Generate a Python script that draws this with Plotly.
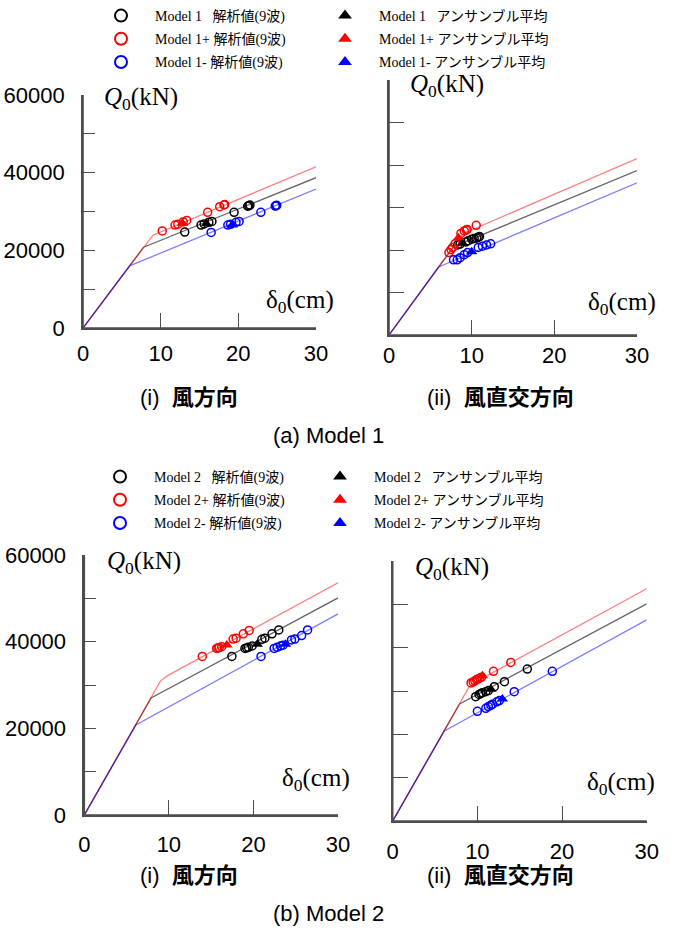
import plotly.graph_objects as go

# ---------------- skeleton curves (delta0 [cm], Q0 [kN]) ----------------
m1_curve_x = {"k": [0, 7.8, 30], "r": [0, 9.0, 30], "b": [0, 6.0, 30]}
m1_curve_y = {"k": [0, 20800, 38700], "r": [0, 23900, 41500], "b": [0, 16000, 35800]}
m2_curve_x = {"k": [0, 7.9, 30], "r": [0, 9.0, 9.8, 30], "b": [0, 6.1, 30]}
m2_curve_y = {"k": [0, 27000, 50100], "r": [0, 30900, 32100, 53600], "b": [0, 20800, 46400]}

# ---------------- analysis values (9 waves) ----------------
# Model 1, (i) along-wind
m1_along_k_x = [13.1, 15.2, 15.6, 16.2, 16.6, 19.45, 21.2, 21.35, 21.5]
m1_along_k_y = [24700, 26500, 26800, 27200, 27450, 29780, 31350, 31450, 31650]
m1_along_r_x = [10.2, 11.85, 12.2, 12.9, 13.35, 16.05, 17.6, 18.15, 18.25]
m1_along_r_y = [25000, 26500, 26700, 27300, 27700, 29800, 31250, 31700, 31800]
m1_along_b_x = [16.5, 18.65, 19.0, 19.7, 20.1, 22.9, 24.75, 24.85, 24.95]
m1_along_b_y = [24600, 26500, 26700, 27200, 27450, 29780, 31400, 31500, 31600]
# Model 1, (ii) across-wind
m1_across_k_x = [8.3, 8.6, 9.3, 9.6, 10.0, 10.3, 10.6, 10.8, 10.95]
m1_across_k_y = [21200, 21400, 21900, 22200, 22550, 22700, 22800, 23000, 23150]
m1_across_r_x = [7.25, 7.5, 7.7, 8.0, 8.7, 9.1, 9.35, 9.45, 10.55]
m1_across_r_y = [19400, 20100, 20600, 21500, 23900, 24500, 24700, 24850, 25800]
m1_across_b_x = [7.8, 8.25, 8.6, 9.1, 9.5, 10.8, 11.3, 11.8, 12.3]
m1_across_b_y = [17700, 17700, 18200, 18900, 19400, 20600, 20900, 21200, 21450]
# Model 2, (i) along-wind
m2_along_k_x = [17.45, 19.0, 19.2, 19.4, 19.85, 21.0, 21.35, 22.2, 23.0]
m2_along_k_y = [36600, 38450, 38550, 38700, 39000, 40550, 40800, 41800, 42700]
m2_along_r_x = [13.95, 15.65, 15.8, 15.95, 16.25, 17.6, 17.95, 18.8, 19.5]
m2_along_r_y = [36600, 38450, 38550, 38650, 38850, 40600, 40800, 41800, 42600]
m2_along_b_x = [20.9, 22.45, 22.8, 23.2, 23.5, 24.5, 24.9, 25.7, 26.4]
m2_along_b_y = [36600, 38450, 38700, 39000, 39200, 40400, 40600, 41400, 42700]
# Model 2, (ii) across-wind
m2_across_k_x = [9.8, 10.2, 10.4, 10.6, 11.0, 11.3, 12.0, 13.2, 15.9]
m2_across_k_y = [28700, 29200, 29400, 29600, 29850, 30100, 31000, 32150, 35050]
m2_across_r_x = [9.25, 9.5, 9.7, 9.9, 10.05, 10.3, 10.5, 11.9, 13.95]
m2_across_r_y = [31850, 32100, 32350, 32600, 32750, 33000, 33200, 34550, 36600]
m2_across_b_x = [10.0, 11.0, 11.3, 11.6, 11.8, 12.3, 12.6, 14.35, 18.85]
m2_across_b_y = [25300, 26000, 26400, 26700, 26950, 27500, 27800, 29850, 34550]

# ---------------- ensemble averages ----------------
m1_along_avg_x = {"k": 15.9, "r": 12.8, "b": 19.2}
m1_along_avg_y = {"k": 26850, "r": 27000, "b": 26550}
m1_across_avg_x = {"k": 8.9, "r": 8.4, "b": 10.0}
m1_across_avg_y = {"k": 21570, "r": 22900, "b": 19600}
m2_along_avg_x = {"k": 20.45, "r": 16.85, "b": 23.8}
m2_along_avg_y = {"k": 39400, "r": 39250, "b": 39400}
m2_across_avg_x = {"k": 11.6, "r": 10.6, "b": 12.95}
m2_across_avg_y = {"k": 30400, "r": 33500, "b": 28150}

# ---------------- ticks / text ----------------
x_major_ticks = [0, 10, 20, 30]
x_minor_ticks = [5, 15, 25]
y_ticks = [0, 10000, 20000, 30000, 40000, 50000, 60000]
y_tick_text = ["0", "", "20000", "", "40000", "", "60000"]
panel_titles = ["(i)\u00a0\u00a0<b>風方向</b>", "(ii)\u00a0\u00a0<b>風直交方向</b>"]
model_titles = ["(a) Model 1", "(b) Model 2"]

NB = "\u00a0"
LEAD = NB * 4
series_suffix = {"k": NB * 3, "r": "+" + NB, "b": "-" + NB}
line_colors = {"k": "rgba(0,0,0,0.6)", "r": "rgba(255,0,0,0.5)", "b": "rgba(0,0,255,0.5)"}
mark_colors = {"k": "black", "r": "red", "b": "blue"}
order = ["k", "r", "b"]

fig = go.Figure()

data = {
    1: {
        "curve_x": m1_curve_x, "curve_y": m1_curve_y,
        "pts": [
            {"k": (m1_along_k_x, m1_along_k_y), "r": (m1_along_r_x, m1_along_r_y), "b": (m1_along_b_x, m1_along_b_y)},
            {"k": (m1_across_k_x, m1_across_k_y), "r": (m1_across_r_x, m1_across_r_y), "b": (m1_across_b_x, m1_across_b_y)},
        ],
        "avg": [(m1_along_avg_x, m1_along_avg_y), (m1_across_avg_x, m1_across_avg_y)],
    },
    2: {
        "curve_x": m2_curve_x, "curve_y": m2_curve_y,
        "pts": [
            {"k": (m2_along_k_x, m2_along_k_y), "r": (m2_along_r_x, m2_along_r_y), "b": (m2_along_b_x, m2_along_b_y)},
            {"k": (m2_across_k_x, m2_across_k_y), "r": (m2_across_r_x, m2_across_r_y), "b": (m2_across_b_x, m2_across_b_y)},
        ],
        "avg": [(m2_along_avg_x, m2_along_avg_y), (m2_across_avg_x, m2_across_avg_y)],
    },
}

axis_ids = {(1, 0): ("x", "y"), (1, 1): ("x2", "y2"), (2, 0): ("x3", "y3"), (2, 1): ("x4", "y4")}
minor_x_ids = {(1, 0): "x5", (1, 1): "x6", (2, 0): "x7", (2, 1): "x8"}
legend_ids = {1: ("legend", "legend2"), 2: ("legend3", "legend4")}

for m in (1, 2):
    d = data[m]
    for p in (0, 1):
        xa, ya = axis_ids[(m, p)]
        for s in order:
            fig.add_trace(go.Scatter(
                x=d["curve_x"][s], y=d["curve_y"][s], mode="lines",
                line=dict(color=line_colors[s], width=1.3),
                xaxis=xa, yaxis=ya, showlegend=False, hoverinfo="skip"))
        for s in order:
            px_, py_ = d["pts"][p][s]
            fig.add_trace(go.Scatter(
                x=px_, y=py_, mode="markers",
                marker=dict(symbol="circle-open", size=8, color=mark_colors[s],
                            line=dict(width=1.5, color=mark_colors[s])),
                xaxis=xa, yaxis=ya,
                name=f"{LEAD}Model {m}{series_suffix[s]}解析値(9波)",
                legend=legend_ids[m][0], legendgroup=f"m{m}{s}c",
                showlegend=(p == 0)))
        ax_, ay_ = d["avg"][p]
        for s in order:
            fig.add_trace(go.Scatter(
                x=[ax_[s]], y=[ay_[s]], mode="markers",
                marker=dict(symbol="triangle-up", size=10, color=mark_colors[s]),
                xaxis=xa, yaxis=ya,
                name=f"{LEAD}Model {m}{series_suffix[s]}アンサンブル平均",
                legend=legend_ids[m][1], legendgroup=f"m{m}{s}t",
                showlegend=(p == 0)))

W, H = 676, 930
def fx(px):
    return px / W
def fy(py):
    return 1 - py / H

# axis domains (pixel positions)
dom = {
    (1, 0): ((83, 316), (95, 328)),
    (1, 1): ((389, 637), (80, 335)),
    (2, 0): ((84.3, 338), (555, 815)),
    (2, 1): ((392.7, 646.7), (561, 821)),
}
xstand = {(1, 0): 5, (1, 1): 0, (2, 0): 9, (2, 1): 10}
AX_COL = "#4d4d4d"
tickfont = dict(family="Liberation Sans, Arial, sans-serif", size=22, color="black")

layout_axes = {}
shapes = []
for (m, p), ((x0, x1), (y0, y1)) in dom.items():
    xa, ya = axis_ids[(m, p)]
    xk = "xaxis" if xa == "x" else "xaxis" + xa[1:]
    yk = "yaxis" if ya == "y" else "yaxis" + ya[1:]
    layout_axes[xk] = dict(
        domain=[fx(x0), fx(x1)], anchor=ya, range=[0, 30], showgrid=False, zeroline=False,
        showline=True, linecolor=AX_COL, linewidth=1.6, layer="above traces",
        tickmode="array", tickvals=x_major_ticks, ticktext=[str(v) for v in x_major_ticks],
        ticks="inside", ticklen=15, tickwidth=1.3, tickcolor=AX_COL,
        tickfont=tickfont, ticklabelstandoff=xstand[(m, p)], automargin=False, fixedrange=True)
    layout_axes["xaxis" + minor_x_ids[(m, p)][1:]] = dict(
        domain=[fx(x0), fx(x1)], anchor=ya, overlaying=xa, range=[0, 30], showgrid=False,
        zeroline=False, showline=False, tickmode="array", tickvals=x_minor_ticks,
        ticks="inside", ticklen=8, tickwidth=1.3, tickcolor=AX_COL, showticklabels=False,
        automargin=False, fixedrange=True)
    layout_axes[yk] = dict(
        domain=[fy(y1), fy(y0)], anchor=xa, range=[0, 60000], showgrid=False, zeroline=False,
        showline=True, linecolor=AX_COL, linewidth=1.6, layer="above traces",
        tickmode="array", tickvals=y_ticks, ticktext=y_tick_text,
        ticks="inside", ticklen=12 if p == 0 else 15, tickwidth=1.3, tickcolor=AX_COL,
        showticklabels=(p == 0), tickfont=tickfont, ticklabelstandoff=12,
        automargin=False, fixedrange=True)
    # explicit axis frame lines (left and bottom)
    shapes.append(dict(type="line", xref=f"{xa} domain", yref=f"{ya} domain", x0=0, x1=0, y0=0, y1=1,
                       line=dict(color=AX_COL, width=1.6), layer="above"))
    shapes.append(dict(type="line", xref=f"{xa} domain", yref=f"{ya} domain", x0=0, x1=1, y0=0, y1=0,
                       line=dict(color=AX_COL, width=1.6), layer="above"))

annotations = []
serif = "Liberation Serif, Times New Roman, serif"
qpos = {(1, 0): (0.08, 0.987), (1, 1): (0.077, 0.98), (2, 0): (0.082, 0.97), (2, 1): (0.081, 0.973)}
dpos = {(1, 0): (1.086, 0.112), (1, 1): (1.085, 0.125), (2, 0): (1.055, 0.138), (2, 1): (1.04, 0.146)}
for key in dom:
    xa, ya = axis_ids[key]
    annotations.append(dict(
        text="<i>Q</i><sub>0</sub>(kN)", xref=f"{xa} domain", yref=f"{ya} domain",
        x=qpos[key][0], y=qpos[key][1], xanchor="left", yanchor="middle", showarrow=False,
        font=dict(family=serif, size=25, color="black")))
    annotations.append(dict(
        text="δ<sub>0</sub>(cm)", xref=f"{xa} domain", yref=f"{ya} domain",
        x=dpos[key][0], y=dpos[key][1], xanchor="right", yanchor="middle", showarrow=False,
        font=dict(family=serif, size=25, color="black")))

title_font = dict(family="Liberation Sans, Arial, Noto Sans CJK JP, sans-serif", size=22, color="black")
for i, (ty_panel, ty_model) in enumerate([(397, 435), (875, 913)]):
    annotations.append(dict(text=panel_titles[0], xref="paper", yref="paper", x=fx(188.5), y=fy(ty_panel),
                            xanchor="center", yanchor="middle", showarrow=False, font=title_font))
    annotations.append(dict(text=panel_titles[1], xref="paper", yref="paper", x=fx(501), y=fy(ty_panel),
                            xanchor="center", yanchor="middle", showarrow=False, font=title_font))
    annotations.append(dict(text=model_titles[i], xref="paper", yref="paper", x=fx(328.5), y=fy(ty_model),
                            xanchor="center", yanchor="middle", showarrow=False, font=title_font))

leg_font = dict(family="Liberation Serif, Times New Roman, Noto Sans CJK JP, serif", size=14, color="black")
def leg(xpx, ypx):
    return dict(x=fx(xpx), y=fy(ypx), xanchor="left", yanchor="top", orientation="v",
                bgcolor="rgba(0,0,0,0)", borderwidth=0, font=leg_font, itemsizing="constant",
                tracegroupgap=2, itemclick=False, itemdoubleclick=False)

layout_legends = dict(
    legend=leg(101, 0), legend2=leg(325, 0),
    legend3=leg(100, 461), legend4=leg(320, 461),
)

fig.update_layout(
    width=W, height=H, margin=dict(l=0, r=0, t=0, b=0, autoexpand=False),
    paper_bgcolor="white", plot_bgcolor="white",
    annotations=annotations, shapes=shapes, **layout_axes, **layout_legends,
)

fig.write_html("out.html")
